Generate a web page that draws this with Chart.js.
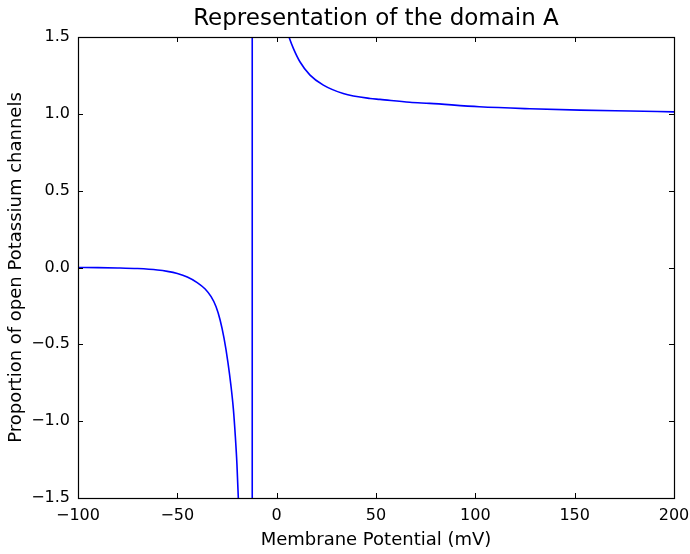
<!DOCTYPE html>
<html>
<head>
<meta charset="utf-8">
<script src="https://cdn.jsdelivr.net/npm/chart.js@4/dist/chart.umd.min.js"></script>
<style>
  html, body { margin: 0; padding: 0; background: #ffffff; }
  #wrap { width: 690px; height: 554px; }
</style>
</head>
<body>
<div id="wrap"><canvas id="domainChart" width="690" height="554"></canvas></div>
<script>
// Membrane potential (mV) and proportion of open K+ channels, left of the pole
const leftPotential = [-100, -90, -80, -70, -60, -55, -50, -45, -40, -36, -33, -30.5, -28.5, -26.5, -24.5, -23, -21.8, -20.8, -20.0, -19.3, -18.7];
const leftOpen      = [0.000, -0.001, -0.003, -0.007, -0.016, -0.025, -0.039, -0.062, -0.098, -0.140, -0.190, -0.255, -0.34, -0.46, -0.62, -0.77, -0.92, -1.10, -1.28, -1.50, -1.72];

// Right of the pole
const rightPotential = [4.5, 6.2, 8.4, 11.7, 16.8, 23.5, 33.5, 47, 52, 67, 77, 102, 127.5, 152.7, 178, 200];
const rightOpen      = [1.57, 1.50, 1.426, 1.339, 1.252, 1.187, 1.133, 1.100, 1.094, 1.075, 1.068, 1.046, 1.033, 1.024, 1.018, 1.013];

// The jump across the pole
const polePotential = [-12.3, -12.3];
const poleOpen      = [-3, 3];

const xTicks = [-100, -50, 0, 50, 100, 150, 200];
const yTicks = [-1.5, -1.0, -0.5, 0.0, 0.5, 1.0, 1.5];

const toPoints = (xs, ys) => xs.map((x, i) => ({ x: x, y: ys[i] }));
const minus = s => String(s).replace('-', '\u2212');

const FONT = 'DejaVu Sans';
const LINE = '#0000ff';

// matplotlib-style frame with inward ticks on every side
const framePlugin = {
    id: 'frame',
    afterDraw(chart) {
        const { ctx, chartArea: a, scales } = chart;
        const len = 5;
        ctx.save();
        ctx.strokeStyle = '#000000';
        ctx.lineWidth = 1;
        ctx.beginPath();
        xTicks.forEach(v => {
            const px = Math.round(scales.x.getPixelForValue(v)) + 0.5;
            ctx.moveTo(px, a.bottom); ctx.lineTo(px, a.bottom - len);
            ctx.moveTo(px, a.top);    ctx.lineTo(px, a.top + len);
        });
        yTicks.forEach(v => {
            const py = Math.round(scales.y.getPixelForValue(v)) + 0.5;
            ctx.moveTo(a.left, py);  ctx.lineTo(a.left + len, py);
            ctx.moveTo(a.right, py); ctx.lineTo(a.right - len, py);
        });
        ctx.stroke();
        ctx.lineWidth = 1.2;
        ctx.strokeRect(Math.round(a.left) + 0.5, Math.round(a.top) + 0.5,
                       Math.round(a.right - a.left), Math.round(a.bottom - a.top));
        ctx.restore();
    }
};

const branch = (xs, ys, smooth) => ({
    data: toPoints(xs, ys),
    borderColor: LINE,
    borderWidth: 1.6,
    pointRadius: 0,
    fill: false,
    cubicInterpolationMode: smooth ? 'monotone' : 'default',
    tension: 0,
    clip: 0
});

new Chart(document.getElementById('domainChart'), {
    type: 'line',
    data: {
        datasets: [
            branch(leftPotential, leftOpen, true),
            branch(polePotential, poleOpen, false),
            branch(rightPotential, rightOpen, true)
        ]
    },
    options: {
        responsive: false,
        animation: false,
        devicePixelRatio: 1,
        layout: { padding: { left: 0, right: 16, top: 0, bottom: 0 } },
        plugins: {
            legend: { display: false },
            tooltip: { enabled: false },
            title: {
                display: true,
                fullSize: false,
                text: 'Representation of the domain A',
                color: '#000000',
                font: { family: FONT, size: 23, weight: 'normal', lineHeight: 1.2 },
                padding: { top: 5, bottom: 4.4 }
            }
        },
        scales: {
            x: {
                type: 'linear',
                min: -100,
                max: 200,
                grid: { display: false, drawTicks: false },
                border: { display: false },
                afterBuildTicks: s => { s.ticks = xTicks.map(v => ({ value: v })); },
                afterFit: s => { s.height = 56; s.paddingLeft = 0; s.paddingRight = 0; },
                ticks: {
                    color: '#000000',
                    padding: 8,
                    maxRotation: 0,
                    font: { family: FONT, size: 16 },
                    callback: v => minus(v)
                },
                title: {
                    display: true,
                    text: 'Membrane Potential (mV)',
                    color: '#000000',
                    font: { family: FONT, size: 18 },
                    padding: { top: 0, bottom: 3 }
                }
            },
            y: {
                type: 'linear',
                min: -1.5,
                max: 1.5,
                grid: { display: false, drawTicks: false },
                border: { display: false },
                afterBuildTicks: s => { s.ticks = yTicks.map(v => ({ value: v })); },
                afterFit: s => { s.width = 78; },
                ticks: {
                    color: '#000000',
                    padding: 8,
                    font: { family: FONT, size: 16 },
                    callback: v => minus(Number(v).toFixed(1))
                },
                title: {
                    display: true,
                    text: 'Proportion of open Potassium channels',
                    color: '#000000',
                    font: { family: FONT, size: 18 },
                    padding: { top: 6, bottom: 0 }
                }
            }
        }
    },
    plugins: [framePlugin]
});
</script>
</body>
</html>
